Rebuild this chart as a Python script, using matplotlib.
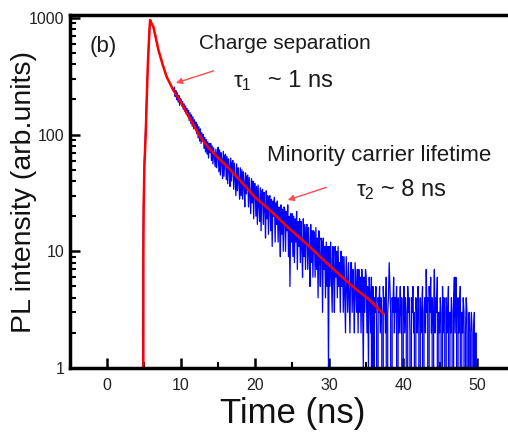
import matplotlib
matplotlib.use('Agg')
import matplotlib.pyplot as plt
import numpy as np

plt.rcParams['font.family'] = ['Liberation Sans', 'DejaVu Sans']
plt.rcParams['mathtext.fontset'] = 'custom'
plt.rcParams['mathtext.rm'] = 'Liberation Sans'
plt.rcParams['mathtext.it'] = 'Liberation Sans:italic'

# TCSPC decay, counts per 0.1 ns channel, first channel at 4.7 ns
t_start = 4.7
bin_ns = 0.1
counts = [
    0, 2, 20,                                           # 4.7-4.9
    45, 75, 110, 170, 260, 380, 560, 770, 955, 940,     # 5
    900, 870, 845, 800, 750, 705, 660, 620, 585, 545,   # 6
    520, 495, 470, 445, 420, 402, 385, 368, 350, 338,   # 7
    322, 312, 300, 292, 280, 272, 262, 256, 248, 240,   # 8
    236, 255, 212, 238, 199, 228, 190, 217, 178, 205,   # 9
    200, 176, 192, 165, 184, 158, 176, 150, 168, 144,   # 10
    162, 132, 154, 125, 148, 118, 142, 112, 134, 116,   # 11
    128, 102, 122, 94, 117, 88, 112, 84, 104, 88,       # 12
    100, 76, 95, 71, 91, 68, 87, 63, 84, 70,            # 13
    84, 60, 80, 56, 77, 64, 53, 75, 52, 70,             # 14
    78, 48, 74, 45, 70, 60, 42, 72, 44, 66,             # 15
    68, 41, 65, 38, 62, 52, 36, 63, 40, 58,             # 16
    60, 34, 57, 42, 30, 56, 33, 52, 40, 28,             # 17
    52, 30, 50, 28, 48, 38, 24, 47, 31, 44,             # 18
    45, 24, 43, 30, 21, 42, 26, 40, 19, 38,             # 19
    38, 20, 36, 17, 37, 26, 18, 35, 15, 33,             # 20
    34, 17, 32, 24, 13, 33, 19, 30, 14, 29,             # 21
    30, 15, 28, 11, 27, 20, 29, 12, 26, 17,             # 22
    27, 12, 24, 17, 9, 25, 14, 23, 10, 24,              # 23
    23, 10, 22, 15, 25, 9, 20, 5, 21, 12,               # 24
    21, 9, 20, 8, 19, 12, 22, 7, 18, 11,                # 25
    19, 8, 18, 11, 6, 19, 9, 17, 7, 16,                 # 26
    17, 7, 16, 10, 5, 17, 8, 15, 6, 15,                 # 27
    14, 6, 16, 7, 13, 4, 15, 9, 5, 13,                  # 28
    12, 3, 13, 7, 11, 4, 12, 5, 11, 1,                  # 29
    11, 5, 12, 6, 3, 11, 7, 3, 11, 6,                   # 30
    10, 4, 11, 5, 8, 3, 10, 5, 9, 3,                    # 31
    9, 4, 2, 9, 5, 3, 8, 4, 2, 8,                       # 32
    8, 3, 7, 4, 2, 8, 5, 3, 7, 2,                       # 33
    7, 3, 6, 2, 7, 4, 1, 6, 3, 7,                       # 34
    6, 2, 5, 1, 6, 4, 2, 6, 0, 5,                       # 35
    0, 4, 3, 5, 2, 0, 4, 3, 5, 2,                       # 36
    4, 3, 0, 5, 3, 4, 2, 6, 0, 3,                       # 37
    4, 8, 5, 3, 0, 4, 3, 6, 2, 4,                       # 38
    3, 5, 0, 4, 2, 3, 5, 2, 4, 0,                       # 39
    3, 5, 2, 4, 3, 0, 5, 3, 4, 2,                       # 40
    0, 4, 3, 5, 2, 3, 0, 4, 3, 2,                       # 41
    5, 3, 0, 4, 2, 3, 5, 0, 3, 4,                       # 42
    2, 7, 3, 4, 0, 5, 3, 6, 2, 4,                       # 43
    0, 3, 7, 2, 4, 3, 6, 0, 3, 2,                       # 44
    4, 3, 0, 5, 2, 4, 3, 0, 4, 2,                       # 45
    3, 5, 0, 3, 2, 4, 3, 0, 4, 6,                       # 46
    2, 6, 3, 0, 4, 2, 3, 5, 0, 3,                       # 47
    2, 4, 3, 0, 2, 4, 3, 0, 2, 3,                       # 48
    0, 2, 3, 2, 0, 2, 3, 0, 2, 0,                       # 49
]
time = t_start + bin_ns * np.arange(len(counts))

# biexponential fit curve
fit_time = [4.9, 4.91, 4.95, 5.05, 5.23, 5.38, 5.5, 5.65, 5.81, 6.0, 6.26,
            6.6, 6.94, 7.5, 8.06, 8.96, 10.0, 10.77, 11.7, 12.57, 13.5, 14.8,
            16.0, 17.1, 18.5, 19.9, 22.0, 24.4, 27.0, 29.8, 33.0, 35.5, 37.3]
fit_pl = [1, 10, 25, 55, 103, 220, 380, 620, 960, 900, 840,
          670, 530, 400, 312, 240, 188, 152, 120, 96, 80, 65,
          55, 46.5, 37, 29.4, 22.5, 16.1, 11.5, 7.8, 5.1, 3.8, 2.92]

fig = plt.figure(figsize=(5.08, 4.34), dpi=100)
ax = fig.add_axes([0.1378, 0.152, 0.882, 0.8134])

ax.plot(time, counts, color='#0000ff', lw=0.9)
ax.plot(fit_time, fit_pl, color='#ff0000', lw=1.8)

ax.set_yscale('log')
ax.set_xlim(-5, 55.5)
ax.set_ylim(1, 1059)

ax.set_xticks([0, 10, 20, 30, 40, 50])
ax.set_xticks([5, 15, 25, 35, 45], minor=True)
ax.set_yticks([1, 10, 100, 1000])
ax.set_yticklabels(['1', '10', '100', '1000'])
ax.yaxis.set_minor_locator(matplotlib.ticker.LogLocator(subs=np.arange(2, 10)))
ax.yaxis.set_minor_formatter(matplotlib.ticker.NullFormatter())

ax.tick_params(which='both', direction='in', top=False, right=False,
               labelsize=11.5, labelcolor='#222222')
ax.tick_params(which='major', length=7, width=1.8)
ax.tick_params(which='minor', length=4, width=1.5)
ax.tick_params(axis='x', pad=7)
ax.tick_params(axis='y', pad=4)
for sp in ax.spines.values():
    sp.set_linewidth(2.5)

ax.set_xlabel('Time (ns)', fontsize=25, color='#111111')
ax.xaxis.set_label_coords(0.496, -0.13)
ax.xaxis.label.set_va('center')
ax.set_ylabel('PL intensity (arb.units)', fontsize=20.5, color='#111111')
ax.yaxis.set_label_coords(-0.102, 0.5)
ax.yaxis.label.set_va('center')

txt = dict(color='#1a1a1a', va='baseline', ha='left')
ax.text(-2.3, 513, '(b)', fontsize=16, **txt)
ax.text(12.4, 538, 'Charge separation', fontsize=15, **txt)
ax.text(17.0, 254, r'$\mathregular{τ_1}$', fontsize=16, **txt)
ax.text(21.7, 254, '~ 1 ns', fontsize=17, **txt)
ax.text(21.6, 59.8, 'Minority carrier lifetime', fontsize=16, **txt)
ax.text(33.6, 29.8, r'$\mathregular{τ_2}$', fontsize=16, **txt)
ax.text(37.0, 29.8, '~ 8 ns', fontsize=17, **txt)

arrow = dict(arrowstyle='-|>', color='#ff4d4d', lw=1.0, mutation_scale=9,
             shrinkA=0, shrinkB=0)
ax.annotate('', xy=(9.3, 277), xytext=(14.4, 352), arrowprops=arrow)
ax.annotate('', xy=(24.4, 27.5), xytext=(29.6, 35.3), arrowprops=arrow)

fig.savefig('out.png', dpi=100)
